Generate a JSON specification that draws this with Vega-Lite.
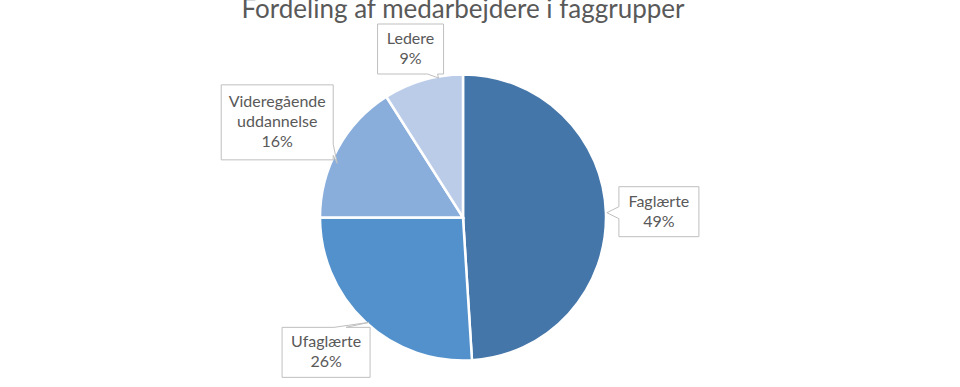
{
  "$schema": "https://vega.github.io/schema/vega-lite/v6.json",
  "width": 926,
  "height": 341,
  "autosize": {"type": "none"},
  "padding": {"left": 0, "top": 47, "right": 34, "bottom": 0},
  "background": "white",
  "title": {"text": "Fordeling af medarbejdere i faggrupper", "font": "Lato", "fontSize": 26, "fontWeight": "normal", "color": "#595959", "anchor": "middle", "baseline": "alphabetic", "offset": 0, "dy": 22},
  "config": {"view": {"stroke": null}},
  "data": {"values": [
    {"name": "Faglærte", "value": 49},
    {"name": "Ufaglærte", "value": 26},
    {"name": "Videregående uddannelse", "value": 16},
    {"name": "Ledere", "value": 9}
  ]},
  "transform": [
    {"joinaggregate": [{"op": "sum", "field": "value", "as": "total"}]},
    {"window": [{"op": "row_number", "as": "idx"}, {"op": "sum", "field": "value", "as": "cum"}], "frame": [null, 0]},
    {"calculate": "2*PI*(datum.cum - datum.value/2)/datum.total", "as": "mid"},
    {"calculate": "split(datum.name, ' ')", "as": "words"},
    {"calculate": "4*max(length(datum.words[0]), length(peek(datum.words))) + 8", "as": "hw"},
    {"calculate": "12.5*(length(datum.words) + 1)", "as": "hh"},
    {"calculate": "(156 + datum.hw)*sin(datum.mid)", "as": "lx"},
    {"calculate": "min((160 + datum.hh)*cos(datum.mid), 193.5 - datum.hh)", "as": "ly"},
    {"calculate": "datum.ly + length(datum.words)*20/2", "as": "ty"},
    {"calculate": "replace(datum.name, ' ', '\\n') + '\\n' + datum.value + '%'", "as": "label"}
  ],
  "layer": [
    {
      "mark": {"type": "arc", "outerRadius": 143, "stroke": "white", "strokeWidth": 2.5},
      "encoding": {
        "theta": {"field": "value", "type": "quantitative", "stack": true},
        "order": {"field": "idx", "type": "quantitative"},
        "color": {"field": "name", "type": "nominal", "legend": null,
          "scale": {"domain": ["Faglærte", "Ufaglærte", "Videregående uddannelse", "Ledere"],
                    "range": ["#4576A9", "#5291CC", "#89AEDC", "#BBCCE9"]}}
      }
    },
    {
      "mark": {"type": "point", "filled": true, "fill": "white", "stroke": "#BFBFBF", "strokeWidth": 1, "opacity": 1, "fillOpacity": 1, "strokeOpacity": 1, "size": 4},
      "encoding": {
        "x": {"field": "lx", "type": "quantitative", "scale": {"domain": [-463, 463], "nice": false, "zero": false}, "axis": null},
        "y": {"field": "ly", "type": "quantitative", "scale": {"domain": [-170.5, 170.5], "nice": false, "zero": false}, "axis": null},
        "shape": {"field": "name", "type": "nominal", "legend": null,
          "scale": {"domain": ["Faglærte", "Ufaglærte", "Videregående uddannelse", "Ledere"],
                    "range": ["M-40,-25H40V25H-40V7L-52,1L-40,-5Z", "M-44,-25H8L43,-30L20,-25H44V25H-44Z", "M-56,-37.5H56V22L60,41L56,33V37.5H-56Z", "M-33,-25H33V25H27L28,29L17,25H-33Z"]}}
      }
    },
    {
      "mark": {"type": "text", "font": "Lato", "fontSize": 16, "color": "#595959", "lineBreak": "\n", "lineHeight": 20, "align": "center", "baseline": "middle"},
      "encoding": {
        "x": {"field": "lx", "type": "quantitative"},
        "y": {"field": "ty", "type": "quantitative"},
        "text": {"field": "label", "type": "nominal"}
      }
    }
  ]
}
